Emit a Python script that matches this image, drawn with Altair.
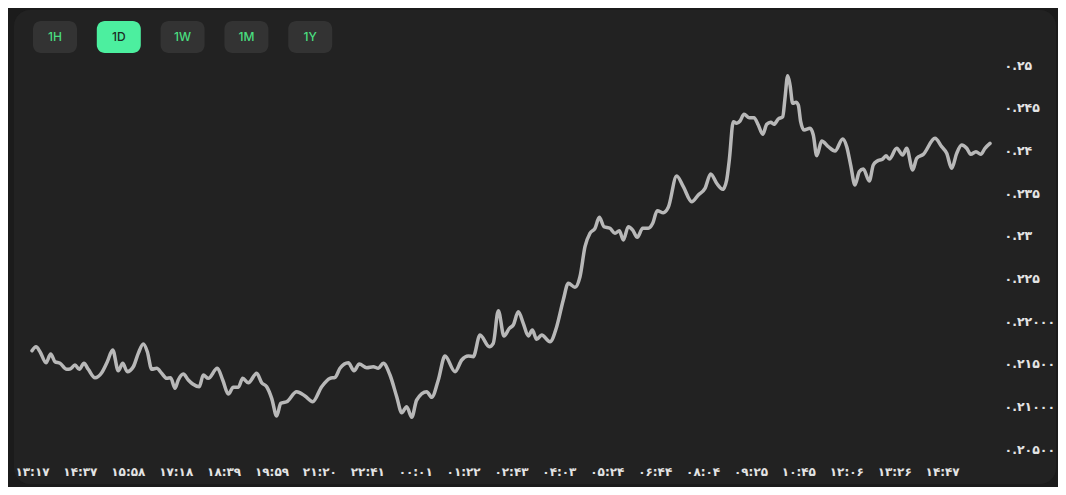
import json
import altair as alt
import pandas as pd

# ---- data ----
steps = [0.0, 0.67, 1.34, 2.34, 3.12, 3.84, 4.68, 5.80, 6.35, 7.18, 7.90, 8.68, 9.40, 10.52, 11.64,
         12.58, 13.48, 14.41, 15.15, 15.92, 16.92, 17.75, 18.59, 19.26, 19.99, 20.83, 21.66, 22.50,
         23.16, 23.88, 24.43, 25.27, 26.10, 26.84, 27.94, 28.61, 29.44, 30.95, 31.85, 32.79, 33.62,
         34.46, 35.19, 36.13, 37.53, 38.36, 39.20, 40.03, 40.87, 41.54, 42.54, 44.21, 45.59, 46.88,
         48.38, 49.77, 50.61, 51.44, 52.83, 53.78, 54.66, 55.90, 57.00, 57.84, 58.67, 59.79, 60.91,
         61.75, 62.58, 63.42, 64.25, 65.92, 66.76, 67.86, 68.98, 70.65, 71.77, 72.87, 73.70, 74.82,
         76.38, 77.04, 77.88, 78.83, 79.72, 80.38, 81.22, 82.05, 82.89, 83.56, 84.29, 85.13, 86.51,
         87.63, 88.73, 89.57, 90.69, 91.52, 92.36, 93.19, 94.03, 94.75, 95.53, 96.53, 97.37, 98.09,
         98.76, 99.59, 100.33, 101.09, 101.99, 102.93, 103.67, 104.43, 105.44, 106.27, 107.67,
         108.78, 110.18, 111.28, 112.40, 113.35, 114.35, 115.36, 116.02, 116.46, 117.13, 117.69,
         118.25, 118.92, 119.80, 120.58, 121.30, 122.04, 122.71, 123.37, 123.92, 124.64, 125.38,
         125.76, 126.21, 126.60, 127.05, 127.60, 127.98, 128.38, 128.94, 129.94, 130.49, 131.06,
         131.89, 132.99, 134.11, 135.40, 136.07, 136.73, 137.45, 138.17, 138.84, 139.84, 140.51,
         141.18, 142.08, 142.63, 143.18, 144.42, 145.42, 146.09, 147.09, 147.76, 148.86, 150.81,
         151.93, 152.77, 153.60, 154.44, 155.27, 156.11, 156.78, 157.66, 158.45, 159.16, 160.00]

prices = [0.21652, 0.21699, 0.21640, 0.21511, 0.21613, 0.21523, 0.21504, 0.21434, 0.21437, 0.21484,
          0.21434, 0.21504, 0.21434, 0.21335, 0.21394, 0.21523, 0.21660, 0.21417, 0.21504, 0.21406,
          0.21464, 0.21621, 0.21730, 0.21640, 0.21434, 0.21446, 0.21387, 0.21328, 0.21335, 0.21211,
          0.21309, 0.21379, 0.21309, 0.21262, 0.21230, 0.21367, 0.21328, 0.21446, 0.21309, 0.21144,
          0.21223, 0.21223, 0.21328, 0.21277, 0.21387, 0.21277, 0.21230, 0.21094, 0.20887, 0.21035,
          0.21054, 0.21171, 0.21121, 0.21054, 0.21230, 0.21328, 0.21340, 0.21446, 0.21511, 0.21417,
          0.21496, 0.21453, 0.21464, 0.21446, 0.21504, 0.21367, 0.21113, 0.20925, 0.20996, 0.20871,
          0.21074, 0.21171, 0.21106, 0.21309, 0.21590, 0.21406, 0.21543, 0.21590, 0.21582, 0.21836,
          0.21699, 0.21739, 0.22121, 0.21824, 0.21914, 0.21953, 0.22109, 0.21973, 0.21824, 0.21894,
          0.21785, 0.21836, 0.21757, 0.21933, 0.22246, 0.22442, 0.22395, 0.22519, 0.22871, 0.23028,
          0.23086, 0.23215, 0.23105, 0.23086, 0.23028, 0.23058, 0.22949, 0.23105, 0.23066, 0.22981,
          0.23086, 0.23086, 0.23145, 0.23293, 0.23269, 0.23332, 0.23699, 0.23574, 0.23398, 0.23477,
          0.23555, 0.23723, 0.23614, 0.23543, 0.23652, 0.23887, 0.24336, 0.24317, 0.24344, 0.24422,
          0.24382, 0.24382, 0.24297, 0.24188, 0.24305, 0.24329, 0.24305, 0.24367, 0.24394, 0.24610,
          0.24875, 0.24766, 0.24551, 0.24563, 0.24531, 0.24336, 0.24238, 0.24258, 0.24180, 0.23937,
          0.24109, 0.24043, 0.23992, 0.24133, 0.24043, 0.23828, 0.23594, 0.23750, 0.23781, 0.23641,
          0.23828, 0.23875, 0.23898, 0.23937, 0.23898, 0.24024, 0.23945, 0.24024, 0.23770, 0.23907,
          0.23953, 0.24141, 0.24043, 0.23965, 0.23789, 0.23965, 0.24062, 0.24024, 0.23953, 0.23984,
          0.23953, 0.24024, 0.24082]

x_labels = ["۱۳:۱۷", "۱۴:۳۷", "۱۵:۵۸", "۱۷:۱۸", "۱۸:۳۹", "۱۹:۵۹", "۲۱:۲۰", "۲۲:۴۱", "۰۰:۰۱",
            "۰۱:۲۲", "۰۲:۴۳", "۰۴:۰۳", "۰۵:۲۴", "۰۶:۴۴", "۰۸:۰۴", "۰۹:۲۵", "۱۰:۴۵", "۱۲:۰۶",
            "۱۳:۲۶", "۱۴:۴۷"]
x_tick_steps = [i * 8 for i in range(len(x_labels))]

y_ticks = [0.205, 0.21, 0.215, 0.22, 0.225, 0.23, 0.235, 0.24, 0.245, 0.25]
y_labels = ["۰.۲۰۵۰۰", "۰.۲۱۰۰۰", "۰.۲۱۵۰۰", "۰.۲۲۰۰۰", "۰.۲۲۵", "۰.۲۳", "۰.۲۳۵", "۰.۲۴",
            "۰.۲۴۵", "۰.۲۵"]

buttons = ["1H", "1D", "1W", "1M", "1Y"]
active_button = "1D"

# ---- chart ----
df = pd.DataFrame({"step": steps, "price": prices})
btn_df = pd.DataFrame({"label": buttons, "order": list(range(len(buttons))),
                       "active": [b == active_button for b in buttons]})

x_expr = json.dumps(x_labels, ensure_ascii=False) + "[round(datum.value / 8)]"
y_expr = json.dumps(y_labels, ensure_ascii=False) + "[round((datum.value - 0.205) / 0.005)]"

label_font = "DejaVu Sans"

card = alt.Chart(alt.Data(values=[{"k": 1}])).mark_rect(
    fill="#222222", cornerRadius=16
).encode(x=alt.value(-18), x2=alt.value(1024), y=alt.value(-55), y2=alt.value(419))

line = alt.Chart(df).mark_line(
    color="#b8b8b8", strokeWidth=3.5, interpolate="monotone", strokeCap="round", strokeJoin="round"
).encode(
    x=alt.X("step:Q",
            scale=alt.Scale(domain=[0, 160], nice=False, zero=False),
            axis=alt.Axis(values=x_tick_steps, labelExpr=x_expr, title=None, orient="bottom",
                          labelPadding=22, labelBaseline="middle", labelFlush=False,
                          labelOverlap=False, labelFont=label_font, labelFontSize=12,
                          labelFontWeight="bold", labelColor="#e4e4e4", domain=False,
                          ticks=False, grid=False, zindex=2)),
    y=alt.Y("price:Q",
            scale=alt.Scale(domain=[0.205, 0.25], nice=False, zero=False),
            axis=alt.Axis(values=y_ticks, labelExpr=y_expr, title=None, orient="right",
                          labelAlign="left", labelBaseline="middle", labelPadding=14,
                          labelFlush=False, labelOverlap=False, labelFont=label_font,
                          labelFontSize=12.5, labelFontWeight="bold", labelColor="#e4e4e4",
                          domain=False, ticks=False, grid=False, zindex=2)),
)

btn_base = alt.Chart(btn_df).transform_calculate(
    bx="datum.order * 63.8 + 1", bx2="datum.order * 63.8 + 45", cx="datum.order * 63.8 + 23"
)
btn_rect = btn_base.mark_rect(cornerRadius=8).encode(
    x=alt.X("bx:Q", scale=None, axis=None),
    x2="bx2:Q",
    y=alt.value(-44), y2=alt.value(-12),
    fill=alt.condition("datum.active", alt.value("#4cef9f"), alt.value("#333333")),
)
btn_text = btn_base.mark_text(font="Inter", fontSize=12, fontWeight=500, baseline="middle",
                              align="center").encode(
    x=alt.X("cx:Q", scale=None, axis=None),
    y=alt.value(-28),
    text="label:N",
    color=alt.condition("datum.active", alt.value("#1d2b24"), alt.value("#4ade80")),
)

chart = alt.layer(card, line, btn_rect, btn_text).properties(
    width=958, height=384,
    background="#1b1b1b",
    padding={"left": 24, "top": 57, "right": 68, "bottom": 38},
    autosize=alt.AutoSizeParams(type="none"),
).configure_view(stroke=None)

chart.save("out.html", embed_options={"renderer": "svg", "actions": False})
